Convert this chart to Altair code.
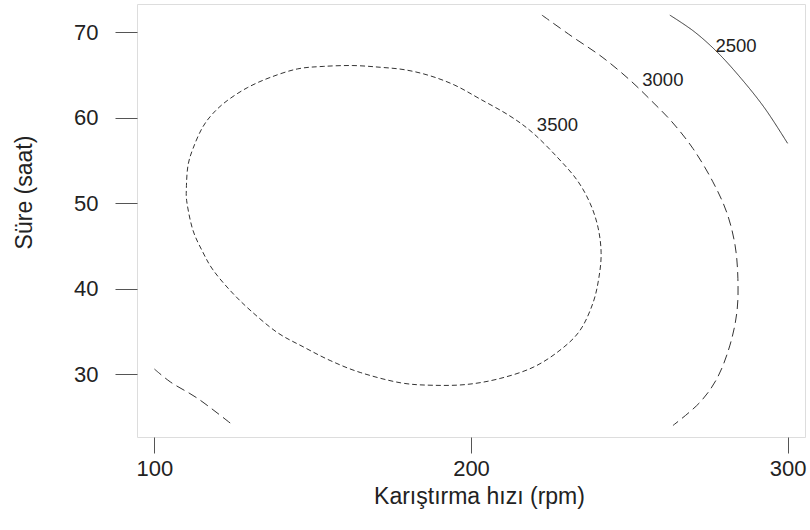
import altair as alt
import pandas as pd

# Contour 2500 (upper right, solid)
c2500_x = [262.8, 270.4, 277.7, 285.3, 292.8, 300.0]
c2500_y = [72.0, 70.1, 67.7, 64.6, 61.1, 57.0]

# Contour 3000 (right arc)
c3000a_x = [222.4, 231.9, 241.4, 250.2, 257.2, 263.5, 270.1, 276.4, 280.8, 283.4,
            284.3, 284.0, 281.8, 277.7, 272.3, 263.8]
c3000a_y = [72.0, 69.5, 67.1, 64.4, 61.9, 59.5, 56.4, 52.5, 48.9, 45.1,
            41.2, 37.3, 33.4, 29.5, 26.7, 24.0]

# Contour 3000 (lower left corner)
c3000b_x = [100.0, 105.0, 113.5, 124.9]
c3000b_y = [30.6, 29.1, 27.2, 24.0]

# Contour 3500 (closed loop)
c3500_x = [110.3, 110.1, 110.6, 112.2, 115.1, 118.5, 123.0, 129.3, 136.5, 145.1,
           153.3, 162.7, 171.3, 179.2, 187.1, 194.9, 202.8, 212.3, 219.6, 227.2,
           233.5, 237.6, 240.1, 241.1, 240.4, 238.5, 234.4, 228.1, 219.6, 209.2,
           198.7, 188.0, 177.6, 165.0, 155.5, 147.0, 138.7, 130.2, 123.9,
           118.5, 115.4, 112.2]
c3500_y = [50.0, 51.8, 54.4, 56.4, 58.8, 60.5, 62.0, 63.5, 64.7, 65.7,
           66.0, 66.1, 65.9, 65.6, 64.9, 63.8, 62.2, 60.2, 58.2, 55.4,
           52.7, 50.0, 47.2, 44.2, 41.3, 38.3, 35.1, 32.8, 30.8, 29.5,
           28.8, 28.7, 29.0, 30.2, 31.6, 33.2, 34.9, 37.5, 39.8,
           42.2, 44.2, 46.8]

label_text = ["2500", "3000", "3500"]
label_x = [283.7, 260.6, 227.3]
label_y = [68.4, 64.4, 59.1]

x_ticks = [100, 200, 300]
y_ticks = [30, 40, 50, 60, 70]


def seg_df(name, xs, ys):
    return pd.DataFrame({"x": xs, "y": ys, "seg": name, "i": list(range(len(xs)))})


FONT = "Liberation Sans"
xscale = alt.Scale(domain=[94.5, 305.5], nice=False, zero=False)
yscale = alt.Scale(domain=[22.65, 73.3], nice=False, zero=False)

X = alt.X("x:Q", scale=xscale, axis=alt.Axis(
    values=x_ticks, tickSize=16, tickColor="#555555", domain=False, grid=False,
    labelFont=FONT, labelFontSize=22, labelColor="#222222", labelPadding=5,
    labelFlush=False,
    title="Karıştırma hızı (rpm)", titleFont=FONT, titleFontSize=23,
    titleFontWeight="normal", titleColor="#222222",
    titleBaseline="alphabetic", titleX=342, titleY=66))
Y = alt.Y("y:Q", scale=yscale, axis=alt.Axis(
    values=y_ticks, tickSize=22, tickColor="#555555", domain=False, grid=False,
    labelFont=FONT, labelFontSize=22, labelColor="#222222", labelPadding=17,
    title="Süre (saat)", titleFont=FONT, titleFontSize=23,
    titleFontWeight="normal", titleColor="#222222",
    titleBaseline="alphabetic", titleX=-106, titleY=188))


def open_line(name, xs, ys, dash):
    return alt.Chart(seg_df(name, xs, ys)).mark_line(
        strokeWidth=1, color="#333333", strokeDash=dash, interpolate="catmull-rom"
    ).encode(x=X, y=Y, order="i:Q")


l2500 = open_line("c2500", c2500_x, c2500_y, [1, 0])
l3000a = open_line("c3000a", c3000a_x, c3000a_y, [9, 5])
l3000b = open_line("c3000b", c3000b_x, c3000b_y, [9, 5])
l3500 = alt.Chart(seg_df("c3500", c3500_x, c3500_y)).mark_line(
    strokeWidth=1, color="#333333", strokeDash=[5, 3], interpolate="cardinal-closed"
).encode(x=X, y=Y, order="i:Q")

lab = pd.DataFrame({"x": label_x, "y": label_y, "t": label_text})
texts = alt.Chart(lab).mark_text(font=FONT, fontSize=18.5, color="#222222").encode(
    x=alt.X("x:Q", scale=xscale),
    y=alt.Y("y:Q", scale=yscale),
    text="t:N",
)

chart = alt.layer(l2500, l3000a, l3000b, l3500, texts).properties(
    width=668, height=433,
    padding={"left": 137, "top": 4, "right": 5, "bottom": 93},
    autosize=alt.AutoSizeParams(type="none"),
).configure_view(stroke="#444444", strokeWidth=1).configure(background="white")

chart.save("out.html", embed_options={"renderer": "svg", "actions": False})
